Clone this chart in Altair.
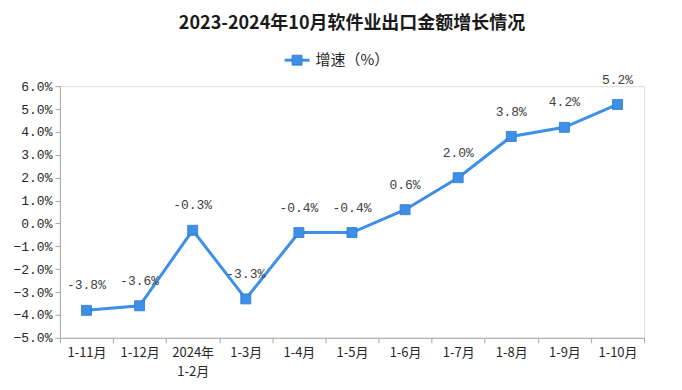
import altair as alt
import pandas as pd

categories = ["1-11月", "1-12月", "2024年\n1-2月", "1-3月", "1-4月", "1-5月",
              "1-6月", "1-7月", "1-8月", "1-9月", "1-10月"]
growth = [-3.8, -3.6, -0.3, -3.3, -0.4, -0.4, 0.6, 2.0, 3.8, 4.2, 5.2]
y_ticks = [6, 5, 4, 3, 2, 1, 0, -1, -2, -3, -4, -5]

df = pd.DataFrame({"cat": categories, "v": growth})
df["lbl"] = [f"{v:.1f}%" for v in growth]

BLUE = "#3D8FE8"
W, H = 585, 252

x_enc = alt.X("cat:N", sort=categories, title=None,
              scale=alt.Scale(type="band", paddingInner=0, paddingOuter=0),
              axis=alt.Axis(labelExpr="split(datum.label, '\\n')", labelAngle=0,
                            labelFont="Noto Sans CJK SC", labelFontSize=13,
                            labelColor="#262626", labelPadding=4,
                            tickBand="extent", tickColor="#A6A6A6", tickSize=5,
                            domainColor="#A6A6A6", grid=False, labelLineHeight=19))
y_enc = alt.Y("v:Q", title=None,
              scale=alt.Scale(domain=[-5, 6], nice=False, zero=False),
              axis=alt.Axis(values=y_ticks, labelExpr="format(datum.value, '.1f') + '%'",
                            labelFont="Liberation Mono", labelFontSize=13,
                            labelColor="#262626", tickColor="#A6A6A6", tickSize=5,
                            domainColor="#A6A6A6", grid=False, labelPadding=3))

base = alt.Chart(df)
line = base.mark_line(color=BLUE, strokeWidth=3).encode(x=x_enc, y=y_enc)
pts = base.mark_point(shape="square", filled=True, size=100, color=BLUE,
                      stroke="#2F78C8", strokeWidth=0.8, opacity=1).encode(x=x_enc, y=y_enc)
labels = base.mark_text(dy=-25, font="Liberation Mono", fontSize=13,
                        color="#404040").encode(x=x_enc, y=y_enc, text="lbl:N")

leg_line = alt.Chart(pd.DataFrame({"a": [0]})).mark_rule(color=BLUE, strokeWidth=3).encode(
    x=alt.value(225), x2=alt.value(250), y=alt.value(-26))
leg_pt = alt.Chart(pd.DataFrame({"a": [0]})).mark_point(
    shape="square", filled=True, size=100, color=BLUE, opacity=1,
    stroke="#2F78C8", strokeWidth=0.8).encode(x=alt.value(237.5), y=alt.value(-26))
leg_txt = alt.Chart(pd.DataFrame({"t": ["增速（%）"]})).mark_text(
    align="left", baseline="middle", font="Noto Sans CJK SC", fontSize=15,
    color="#262626").encode(x=alt.value(256), y=alt.value(-26), text="t:N")

chart = alt.layer(line, pts, labels, leg_line, leg_pt, leg_txt).properties(
    width=W, height=H,
    autosize=alt.AutoSizeParams(type="none"),
    padding={"left": 52, "top": 78, "right": 30, "bottom": 52},
    title=alt.TitleParams("2023-2024年10月软件业出口金额增长情况",
                          font="Noto Sans CJK SC", fontSize=18, fontWeight="bold",
                          color="#1a1a1a", anchor="middle", offset=20,
                          frame="group"),
).configure_view(stroke=None).configure(background="white")

chart.save("out.html", embed_options={"renderer": "svg", "actions": False})
